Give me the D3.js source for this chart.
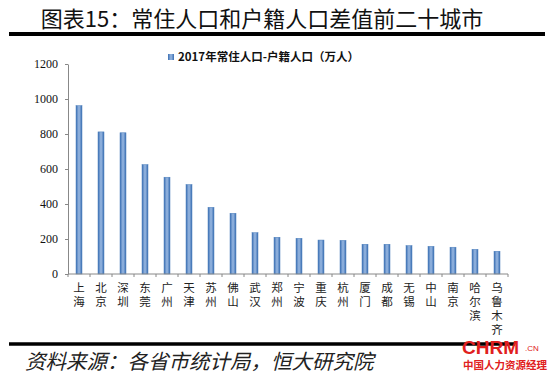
<!DOCTYPE html>
<html>
<head>
<meta charset="utf-8">
<script src="https://cdn.jsdelivr.net/npm/d3@7"></script>
<style>
  body { margin: 0; background: #fff; }
  svg { display: block; }
</style>
</head>
<body>
<div class="chart"></div>
<script>
// data
let CITIES = ["上海", "北京", "深圳", "东莞", "广州", "天津", "苏州", "佛山", "武汉", "郑州",
              "宁波", "重庆", "杭州", "厦门", "成都", "无锡", "中山", "南京", "哈尔滨", "乌鲁木齐"];
let VALUES = [962, 812, 807, 625, 553, 511, 381, 347, 236, 210,
              204, 194, 192, 170, 170, 162, 158, 153, 141, 130];
let Y_TICKS = [0, 200, 400, 600, 800, 1000, 1200];
let SERIES_NAME = "2017年常住人口-户籍人口（万人）";
let TITLE = "图表15：常住人口和户籍人口差值前二十城市";
let SOURCE = "资料来源：各省市统计局，恒大研究院";

let FRAME_WIDTH = 550;
let FRAME_HEIGHT = 382;
let PLOT = {left: 68, right: 508, top: 64, bottom: 274};

let CN_FONT = "'Noto Sans CJK SC', sans-serif";
let NUM_FONT = "'Liberation Serif', 'Noto Sans CJK SC', serif";

let FRAME = d3.select(".chart")
              .append("svg")
              .attr("width", FRAME_WIDTH)
              .attr("height", FRAME_HEIGHT);

// bar gradient
let grad = FRAME.append("defs").append("linearGradient")
                .attr("id", "barGrad")
                .attr("x1", "0%").attr("x2", "100%")
                .attr("y1", "0%").attr("y2", "0%");
grad.append("stop").attr("offset", "0%").attr("stop-color", "#3b6fb3");
grad.append("stop").attr("offset", "50%").attr("stop-color", "#9ab9e2");
grad.append("stop").attr("offset", "100%").attr("stop-color", "#3b6fb3");

// title + rules
FRAME.append("text")
     .attr("x", 262).attr("y", 27)
     .attr("text-anchor", "middle")
     .attr("font-family", CN_FONT)
     .attr("font-size", "22px")
     .attr("fill", "#111")
     .text(TITLE);

FRAME.append("line")
     .attr("x1", 9).attr("x2", 545)
     .attr("y1", 34).attr("y2", 34)
     .attr("stroke", "#000").attr("stroke-width", 4);

FRAME.append("line")
     .attr("x1", 9).attr("x2", 515)
     .attr("y1", 344).attr("y2", 344)
     .attr("stroke", "#000").attr("stroke-width", 3.5);

FRAME.append("text")
     .attr("x", 25).attr("y", 369)
     .attr("font-family", CN_FONT)
     .attr("font-style", "italic")
     .attr("font-size", "20.5px")
     .attr("fill", "#222")
     .text(SOURCE);

// scales
const X_SCALE = d3.scaleBand()
                  .domain(CITIES)
                  .range([PLOT.left, PLOT.right])
                  .paddingInner(0)
                  .paddingOuter(0);

const Y_SCALE = d3.scaleLinear()
                  .domain([0, 1200])
                  .range([PLOT.bottom, PLOT.top]);

let BAR_W = 6;

// bars
FRAME.selectAll(".bar")
     .data(CITIES)
     .enter()
     .append("rect")
       .attr("class", "bar")
       .attr("x", (d) => X_SCALE(d) + X_SCALE.bandwidth() / 2 - BAR_W / 2)
       .attr("y", (d, i) => Y_SCALE(VALUES[i]))
       .attr("width", BAR_W)
       .attr("height", (d, i) => Y_SCALE(0) - Y_SCALE(VALUES[i]))
       .attr("fill", "url(#barGrad)")
       .attr("stroke", "#4a7ebb")
       .attr("stroke-width", 0.5);

// y axis
let yAxis = FRAME.append("g")
     .attr("transform", "translate(" + PLOT.left + ",0)")
     .call(d3.axisLeft(Y_SCALE).tickValues(Y_TICKS).tickFormat(d3.format("d"))
             .tickSize(3).tickPadding(7).tickSizeOuter(0));
yAxis.select(".domain").attr("stroke", "#888");
yAxis.selectAll(".tick line").attr("stroke", "#888");
yAxis.selectAll("text")
     .attr("font-family", NUM_FONT)
     .attr("font-size", "12px")
     .attr("fill", "#111");

// x axis (ticks between bands)
let xAxis = FRAME.append("g")
     .attr("transform", "translate(0," + PLOT.bottom + ")");
xAxis.append("line")
     .attr("x1", PLOT.left).attr("x2", PLOT.right)
     .attr("stroke", "#888");
xAxis.selectAll(".xtick")
     .data(d3.range(CITIES.length + 1))
     .enter()
     .append("line")
       .attr("x1", (i) => PLOT.left + i * X_SCALE.bandwidth())
       .attr("x2", (i) => PLOT.left + i * X_SCALE.bandwidth())
       .attr("y1", 0).attr("y2", 3)
       .attr("stroke", "#888");

// vertical labels, characters stacked top to bottom
xAxis.selectAll(".xlabel")
     .data(CITIES)
     .enter()
     .append("text")
       .attr("class", "xlabel")
       .attr("x", (d) => X_SCALE(d) + X_SCALE.bandwidth() / 2)
       .attr("y", 8)
       .style("writing-mode", "vertical-rl")
       .style("text-orientation", "upright")
       .style("letter-spacing", "2.5px")
       .attr("font-family", CN_FONT)
       .attr("font-size", "11.5px")
       .attr("fill", "#222")
       .text((d) => d);

// legend
FRAME.append("rect")
     .attr("x", 168).attr("y", 54)
     .attr("width", 6).attr("height", 6)
     .attr("fill", "url(#barGrad)");
FRAME.append("text")
     .attr("x", 178).attr("y", 61)
     .attr("font-family", CN_FONT)
     .attr("font-weight", "bold")
     .attr("font-size", "11.5px")
     .attr("fill", "#111")
     .text(SERIES_NAME);

// watermark
FRAME.append("text")
     .attr("x", 462).attr("y", 354)
     .attr("font-family", "'Liberation Sans', sans-serif")
     .attr("font-weight", "bold")
     .attr("font-size", "19px")
     .attr("fill", "#e02020")
     .text("CHRM");
FRAME.append("text")
     .attr("x", 525).attr("y", 351)
     .attr("font-family", "'Liberation Sans', sans-serif")
     .attr("font-size", "8px")
     .attr("fill", "#e02020")
     .text(".CN");
FRAME.append("text")
     .attr("x", 463).attr("y", 369)
     .attr("font-family", CN_FONT)
     .attr("font-weight", "bold")
     .attr("font-size", "10.5px")
     .attr("fill", "#e02020")
     .text("中国人力资源经理");
</script>
</body>
</html>
